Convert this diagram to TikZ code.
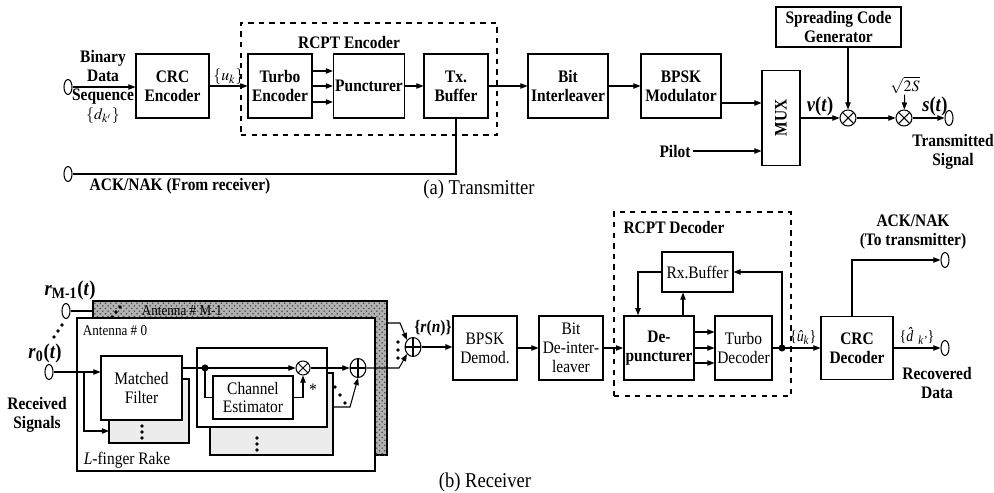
\documentclass[tikz,border=0pt]{standalone}
\usepackage{mathptmx}
\usepackage{fontspec}
\setmainfont{Liberation Serif}[FakeStretch=0.88]
\usetikzlibrary{shapes.geometric,arrows.meta,calc,patterns}

\newcommand\nfont{\fontsize{10}{10.8}\selectfont}
\newcommand\sfnt{\fontsize{8.5}{9}\selectfont}
\newcommand\lfnt{\fontsize{12}{13}\selectfont}
\newcommand\mfnt{\fontsize{9}{10}\selectfont}

\tikzset{
  blk/.style={draw, align=center, inner sep=1pt, font=\nfont\bfseries},
  rblk/.style={blk, font=\nfont},
  sz/.style 2 args={minimum width=#1*0.02cm, minimum height=#2*0.02cm},
  arr/.style={-{Triangle[length=4pt,width=3pt]}},
  port/.style={draw, ellipse, inner sep=0pt, minimum width=0.16cm, minimum height=0.3cm},
  lbl/.style={font=\nfont\bfseries, align=center, inner sep=1pt},
  mlbl/.style={font=\mfnt, inner sep=0.5pt},
  mixer/.style={draw, circle, inner sep=0pt, minimum size=0.32cm,
    path picture={\draw (path picture bounding box.north west) -- (path picture bounding box.south east)
      (path picture bounding box.north east) -- (path picture bounding box.south west);}},
  adder/.style={draw, ellipse, inner sep=0pt, minimum width=0.32cm, minimum height=0.38cm,
    path picture={\draw (path picture bounding box.north) -- (path picture bounding box.south)
      (path picture bounding box.west) -- (path picture bounding box.east);}},
}

\begin{document}
\begin{tikzpicture}[x=0.02cm, y=-0.02cm, line width=0.6pt]
\useasboundingbox (0,0) rectangle (994,493);

% ---- transmitter
\node[draw, dashed, sz={256}{112}] (encgrp) at (369,79) {};
\node[lbl] (enclbl) at (349,42) {RCPT Encoder};
\node[port] (din) at (68,87) {};
\node[lbl] (dlbl) at (103,87) {Binary\\Data\\Sequence\\{\mfnt$\{d_{k'}\}$}};
\node[blk, sz={73}{64}] (crcenc) at (172.5,86) {CRC\\Encoder};
\node[blk, sz={64}{64}] (turboenc) at (280,86) {Turbo\\Encoder};
\node[blk, sz={64}{64}] (punct) at (369,86) {Puncturer};
\node[blk, sz={64}{64}] (txbuf) at (456,86) {Tx.\\Buffer};
\node[blk, sz={80}{64}] (interl) at (568,86) {Bit\\Interleaver};
\node[blk, sz={80}{64}] (bpskmod) at (681,86) {BPSK\\Modulator};
\node[blk, sz={38}{95}] (mux) at (781,118) {\rotatebox{90}{MUX}};
\node[blk, sz={125}{40}] (spread) at (838.5,27) {Spreading Code\\Generator};
\node[mixer] (mix1) at (848,118) {};
\node[mixer] (mix2) at (904,118) {};
\node[port] (sout) at (949,118) {};
\node[mlbl] (sqlbl) at (905,85) {$\sqrt{2S}$};
\node[lbl] (pilot) at (675,151) {Pilot};
\node[lbl] (txsig) at (953,152) {Transmitted\\Signal};
\node[port] (ackin) at (68,174) {};
\node[lbl] (acklbl) at (180,186) {ACK/NAK (From receiver)};
\node[font=\lfnt] (capa) at (479,189) {(a) Transmitter};

\draw[arr] (din.east) -- (din.east -| crcenc.west);
\draw[arr] (crcenc) -- node[mlbl, above] {$\{u_k\}$} (turboenc);
\foreach \dy in {-15,0,16}
  \draw[arr] ($(turboenc.east)+(0,\dy)$) -- ($(punct.west)+(0,\dy)$);
\draw[arr] (punct) -- (txbuf);
\draw[arr] (txbuf) -- (interl);
\draw[arr] (interl) -- (bpskmod);
\coordinate (bm) at ($(bpskmod.east)+(0,17)$);
\draw[arr] (bm) -- (bm -| mux.west);
\draw[arr] (pilot) -- (pilot -| mux.west);
\draw[arr] (mux.east) -- node[lbl, font=\lfnt\bfseries, above] {\textit{v}(\textit{t})} (mix1);
\draw[arr] (spread.south -| mix1) -- (mix1);
\draw[arr] (mix1) -- (mix2);
\draw[arr] (sqlbl) -- (mix2);
\draw[arr] (mix2) -- node[lbl, font=\lfnt\bfseries, above, pos=0.7] {\textit{s}(\textit{t})} (sout);
\draw (txbuf) |- (ackin);

% ---- receiver: antennas and rake
\node[draw, fill=gray!60, postaction={pattern=crosshatch dots, pattern color=black!70}, sz={294}{154}] (antM) at (240,378) {};
\node[font=\sfnt, inner sep=0pt] (antMlbl) at (182,311) {Antenna \# M-1};
\node[draw, fill=white, sz={298}{153}] (ant0) at (226,394.5) {};
\node[font=\sfnt] (ant0lbl) at (115,331) {Antenna \# 0};
\node[draw, fill=gray!15, sz={80}{64}] (mfback) at (149,411) {};
\node[rblk, fill=white, sz={81}{64}] (mf) at (141.5,388) {Matched\\Filter};
\node[draw, fill=gray!15, sz={123}{82}] (fgback) at (271.5,414) {};
\node[draw, fill=white, sz={130}{79}] (finger) at (262,387.5) {};
\node[rblk, sz={80}{43}] (chest) at (253,397.5) {Channel\\Estimator};
\node[mixer, minimum size=0.28cm] (mix3) at (303,368) {};
\node[adder] (add1) at (358,368) {};
\node[adder] (comb) at (413,347) {};
\node[font=\nfont] (star) at (313,390) {*};
\node[font=\nfont] (rake) at (127,460) {\textit{L}-finger Rake};
\node[port] (rM) at (66,311) {};
\node[port] (r0) at (49,372) {};
\node[lbl, font=\lfnt\bfseries] (rMlbl) at (70,290) {\textit{r}\textsubscript{M-1}(\textit{t})};
\node[lbl, font=\lfnt\bfseries] (r0lbl) at (45,353) {\textit{r}\textsubscript{0}(\textit{t})};
\node[lbl] (rxsig) at (37,415) {Received\\Signals};
\node[lbl] (rnlbl) at (433,328) {\{\textit{r}(\textit{n})\}};

\foreach \p in {(112,317),(116,312),(120,307), (54,337),(58,331),(62,325),
                (142,426),(142,432),(142,438), (257,438),(257,444),(257,450),
                (335,387),(340,395),(345,403), (398,342),(398,350),(398,358)}
  \fill \p circle (1.1pt);

\draw (rM) -- (rM -| antM.west);
\draw[line width=1.2pt] (r0) -- (r0 -| ant0.west);
\coordinate (sp0) at (84,372);
\coordinate (mfin) at (109,431);
\draw[arr] (r0 -| ant0.west) -- (r0 -| mf.west);
\draw[arr] (sp0) |- (mfin);
\coordinate (jdot) at (205,368);
\draw (mf.east |- jdot) -- (jdot);
\draw[arr] (jdot) -- (mix3);
\fill (jdot) circle (2pt);
\draw (jdot) |- (chest.west);
\draw[arr] (chest.east) -| (mix3.south);
\draw[arr] (mix3) -- (add1);
\coordinate (fgout) at (333,407);
\coordinate (fgbend) at (350,407);
\draw[arr] (fgout) -- (fgbend) -- (add1.south);
\coordinate (cbl) at (399,368);
\draw[arr] (add1) -- (cbl) -- (comb.south west);
\coordinate (ctop) at (387,323);
\coordinate (ctbend) at (400,323);
\draw[arr] (ctop) -- (ctbend) -- (comb.north west);

% ---- receiver: decoding chain
\node[draw, dashed, sz={177}{184}] (decgrp) at (702.5,304) {};
\node[lbl] (declbl) at (674,227) {RCPT Decoder};
\node[rblk, sz={64}{64}] (bpskdem) at (485,348) {BPSK\\Demod.};
\node[rblk, sz={64}{64}] (deint) at (571,348) {Bit\\De-inter-\\leaver};
\node[blk, sz={64}{64}, line width=0.9pt] (depunct) at (659,348) {De-\\puncturer};
\node[rblk, sz={71}{40}] (rxbuf) at (697.5,272) {Rx.Buffer};
\node[rblk, sz={57}{64}] (turbodec) at (743.5,348) {Turbo\\Decoder};
\node[blk, sz={72}{63}] (crcdec) at (857,348) {CRC\\Decoder};
\node[port] (ackout) at (945,260) {};
\node[port] (recout) at (945,348) {};
\node[lbl] (acklbl2) at (913,232) {ACK/NAK\\(To transmitter)};
\node[lbl] (reclbl) at (937,383) {Recovered\\Data};
\node[font=\lfnt] (capb) at (485,482) {(b) Receiver};

\draw[arr, line width=1.2pt] (comb.east) -- (comb.east -| bpskdem.west);
\draw[arr] (bpskdem) -- (deint);
\draw[arr] (deint) -- (depunct);
\foreach \dy in {-16,0,15}
  \draw[arr] ($(depunct.east)+(0,\dy)$) -- ($(turbodec.west)+(0,\dy)$);
\coordinate (tdot) at (782,348);
\draw (turbodec) -- (tdot);
\fill (tdot) circle (2pt);
\draw[arr] (tdot) -- node[mlbl, above=1pt, pos=0.55] {\{\textit{û}\textsubscript{\textit{k}}\}} (crcdec);
\draw[arr] (tdot) |- (rxbuf);
\coordinate (dpup) at ($(depunct.north)+(24,0)$);
\draw[arr] (dpup) -- (dpup |- rxbuf.south);
\coordinate (dpin) at ($(depunct.north)+(-21,0)$);
\draw[arr] (rxbuf.west) -| (dpin);
\coordinate (crcup) at ($(crcdec.north)+(-5,0)$);
\draw[arr] (crcup) |- (ackout);
\draw[arr] (crcdec) -- node[mlbl, above=1pt] {\{\textit{d̂}\textsubscript{\textit{k'}}\}} (recout);
\end{tikzpicture}
\end{document}
